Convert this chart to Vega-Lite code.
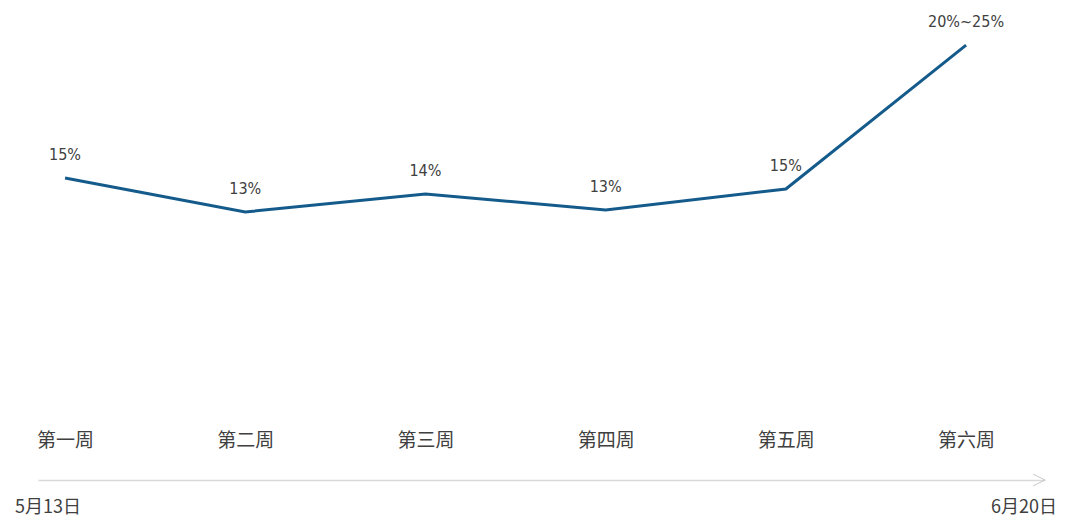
{
  "$schema": "https://vega.github.io/schema/vega-lite/v6.json",
  "autosize": {"type": "none"},
  "padding": {"left": 38, "top": 0, "right": 35, "bottom": 49},
  "width": 1007,
  "height": 480,
  "background": "white",
  "config": {"view": {"stroke": null}},
  "datasets": {
    "weeks": [
      {"n": 1, "week": "第一周", "v": 15.0, "label": "15%"},
      {"n": 2, "week": "第二周", "v": 13.0, "label": "13%"},
      {"n": 3, "week": "第三周", "v": 14.06, "label": "14%"},
      {"n": 4, "week": "第四周", "v": 13.12, "label": "13%"},
      {"n": 5, "week": "第五周", "v": 14.35, "label": "15%"},
      {"n": 6, "week": "第六周", "v": 22.82, "label": "20%~25%"}
    ],
    "dates": [
      {"date": "5月13日", "end": "start"},
      {"date": "6月20日", "end": "finish"}
    ]
  },
  "layer": [
    {
      "data": {"name": "weeks"},
      "mark": {"type": "line", "color": "#145b8c", "strokeWidth": 3},
      "encoding": {
        "x": {
          "field": "n",
          "type": "quantitative",
          "scale": {"domain": [0.85, 6.438], "nice": false, "zero": false},
          "axis": {
            "values": [1, 2, 3, 4, 5, 6],
            "labelExpr": "['第一周','第二周','第三周','第四周','第五周','第六周'][datum.value - 1]",
            "title": null,
            "grid": false,
            "ticks": false,
            "tickSize": 0,
            "domain": true,
            "domainColor": "#d9d9d9",
            "domainWidth": 1.5,
            "labelPadding": -40,
            "labelBaseline": "middle",
            "labelFont": "Noto Sans CJK SC",
            "labelFontSize": 19,
            "labelColor": "#404040",
            "labelFlush": false,
            "labelOverlap": false
          }
        },
        "y": {
          "field": "v",
          "type": "quantitative",
          "scale": {"domain": [-2.765, 25.47], "nice": false, "zero": false},
          "axis": null
        }
      }
    },
    {
      "data": {"name": "weeks"},
      "mark": {"type": "text", "dy": -23, "baseline": "middle", "align": "center", "font": "Liberation Sans Narrow, DejaVu Sans Condensed, sans-serif", "fontSize": 16, "color": "#404040"},
      "encoding": {
        "x": {"field": "n", "type": "quantitative"},
        "y": {"field": "v", "type": "quantitative"},
        "text": {"field": "label"}
      }
    },
    {
      "data": {"name": "dates"},
      "transform": [{"filter": "datum.end === 'start'"}],
      "mark": {"type": "text", "align": "left", "baseline": "middle", "dx": -23, "dy": 28, "font": "Noto Sans CJK SC", "fontSize": 18, "color": "#404040"},
      "encoding": {
        "x": {"datum": 0.85, "type": "quantitative"},
        "y": {"datum": -2.765, "type": "quantitative"},
        "text": {"field": "date"}
      }
    },
    {
      "data": {"name": "dates"},
      "transform": [{"filter": "datum.end === 'finish'"}],
      "mark": {"type": "text", "align": "right", "baseline": "middle", "dx": 12, "dy": 28, "font": "Noto Sans CJK SC", "fontSize": 18, "color": "#404040"},
      "encoding": {
        "x": {"datum": 6.438, "type": "quantitative"},
        "y": {"datum": -2.765, "type": "quantitative"},
        "text": {"field": "date"}
      }
    },
    {
      "data": {"name": "dates"},
      "transform": [{"filter": "datum.end === 'finish'"}],
      "mark": {"type": "point", "shape": "M-2,-1L0,0L-2,1", "size": 144, "filled": false, "stroke": "#c8c8c8", "strokeWidth": 1, "opacity": 1},
      "encoding": {
        "x": {"datum": 6.438, "type": "quantitative"},
        "y": {"datum": -2.765, "type": "quantitative"}
      }
    }
  ]
}
